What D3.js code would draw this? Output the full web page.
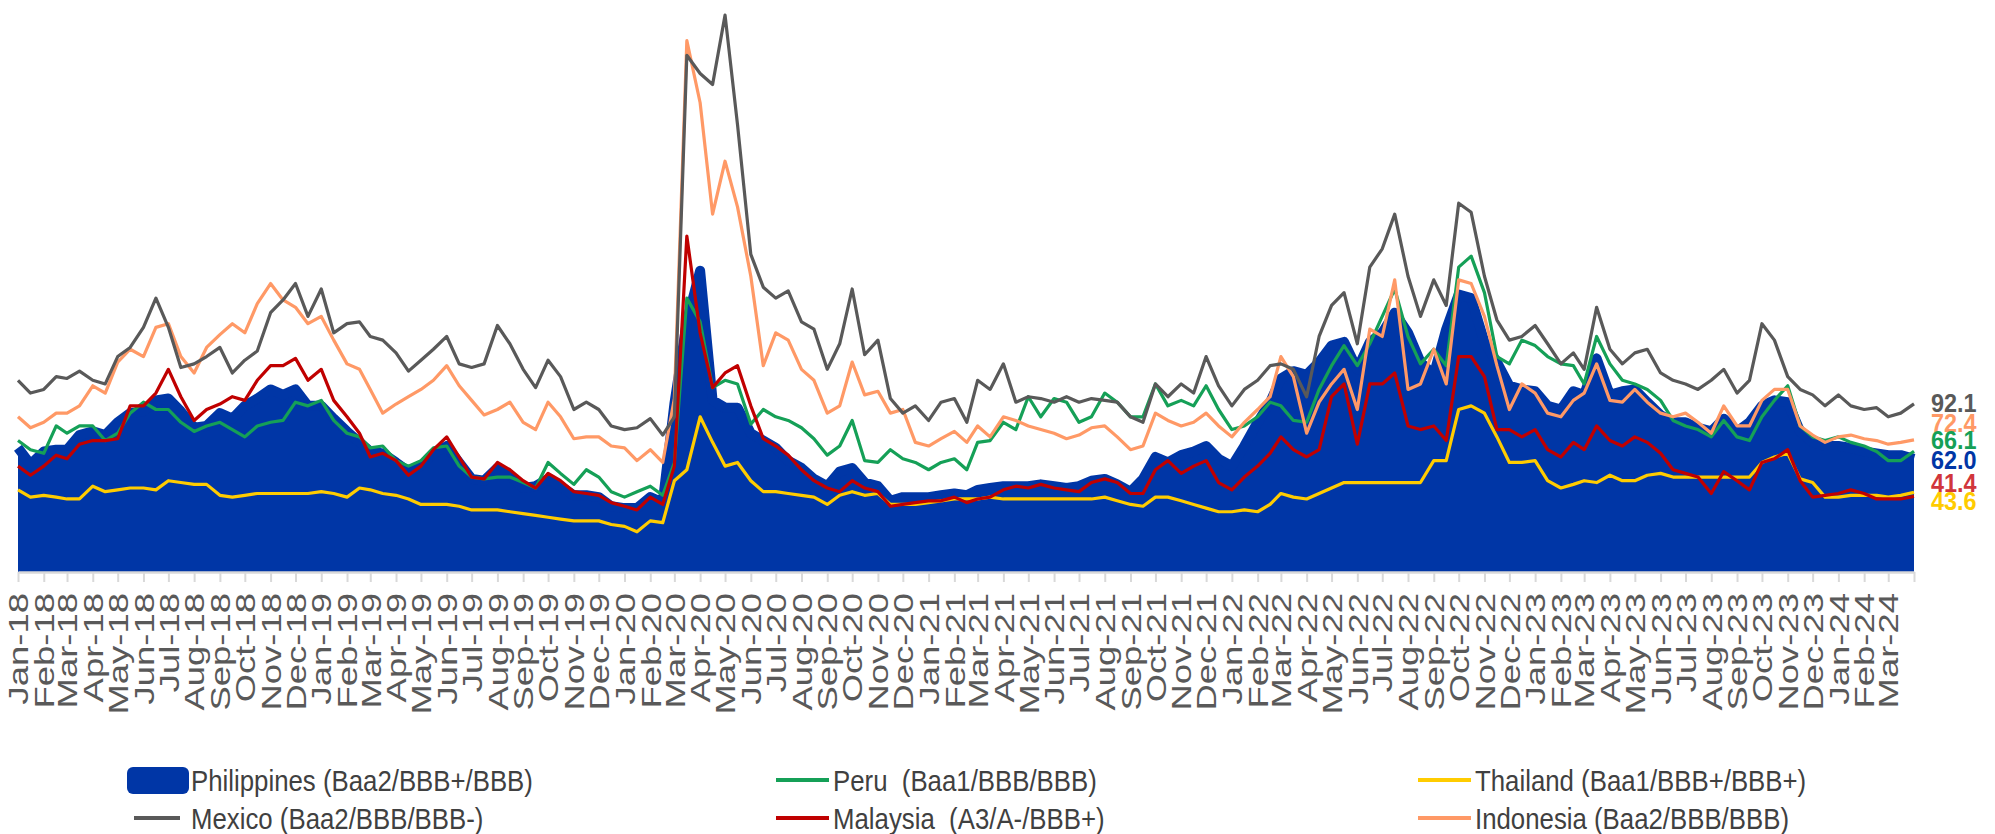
<!DOCTYPE html>
<html>
<head>
<meta charset="utf-8">
<script src="https://cdn.jsdelivr.net/npm/d3@7"></script>
<style>
  body { margin: 0; background: #fff; }
  svg { display: block; }
  text { font-family: "Liberation Sans", Arial, sans-serif; white-space: pre; }
</style>
</head>
<body>
<div id="chart"></div>
<script>
// semi-monthly readings (1st and 16th of each month), Jan-18 .. Apr-24
let philippines = [
  68, 59, 66, 67, 67, 75, 77, 75, 82, 87, 88, 94, 95, 88, 79, 80, 87, 84, 91, 95, 100, 97, 100, 91,
  91, 84, 77, 71, 66, 65, 60, 55, 58, 65, 69, 60, 51, 50, 57, 53, 46, 47, 51, 47, 42, 42, 41, 36,
  35, 35, 41, 38, 92, 137, 165, 94, 90, 90, 76, 72, 68, 61, 57, 51, 47, 55, 57, 49, 47, 39, 41, 41,
  41, 42, 43, 42, 45, 46, 47, 47, 47, 48, 47, 46, 47, 50, 51, 48, 44, 51, 63, 60, 64, 66, 69, 62,
  58, 69, 82, 93, 106, 110, 108, 115, 124, 126, 111, 126, 131, 142, 131, 115, 108, 133, 152, 150, 126, 115, 102, 100,
  99, 91, 89, 99, 97, 117, 97, 99, 100, 93, 86, 82, 82, 79, 77, 84, 77, 82, 91, 94, 93, 77, 71, 69,
  69, 68, 66, 65, 64, 64, 62
];
let mexico = [
  105, 98, 100, 107, 106, 110, 105, 103, 118, 123, 134, 150, 134, 112, 114, 118, 123, 109, 116, 121, 142, 149, 158, 140,
  155, 131, 136, 137, 129, 127, 120, 110, 116, 122, 129, 114, 112, 114, 135, 125, 111, 101, 116, 107, 89, 93, 89, 80,
  78, 79, 84, 75, 85, 283, 273, 267, 305, 245, 174, 156, 150, 154, 137, 133, 111, 125, 155, 119, 127, 95, 87, 91,
  83, 93, 95, 82, 105, 100, 114, 93, 96, 95, 93, 96, 93, 95, 94, 93, 85, 82, 103, 96, 103, 98, 118, 102,
  91, 100, 105, 113, 114, 111, 96, 129, 146, 153, 125, 167, 177, 196, 162, 140, 160, 146, 202, 197, 162, 138, 127, 129,
  135, 125, 114, 120, 111, 145, 122, 114, 120, 122, 109, 105, 103, 100, 105, 111, 98, 105, 136, 127, 107, 100, 97, 91,
  97, 91, 89, 90, 85, 87, 92.1
];
let indonesia = [
  85, 79, 82, 87, 87, 91, 102, 98, 115, 122, 118, 134, 136, 118, 109, 123, 130, 136, 131, 147, 158, 149, 145, 136,
  140, 127, 114, 111, 100, 87, 92, 96, 100, 105, 113, 102, 94, 86, 89, 93, 82, 78, 93, 85, 73, 74, 74, 69,
  68, 61, 67, 60, 95, 291, 257, 196, 225, 200, 162, 113, 131, 127, 111, 105, 87, 91, 115, 97, 99, 87, 89, 71,
  69, 73, 77, 71, 80, 74, 85, 83, 80, 78, 76, 73, 75, 79, 80, 74, 67, 69, 87, 83, 80, 82, 87, 80,
  74, 82, 89, 96, 118, 107, 76, 93, 103, 111, 89, 133, 129, 160, 100, 103, 122, 103, 160, 158, 140, 113, 89, 103,
  98, 87, 85, 94, 98, 114, 94, 93, 100, 93, 87, 85, 87, 82, 76, 91, 80, 80, 94, 100, 100, 80, 75, 71,
  74, 75, 73, 72, 70, 71, 72.4
];
let peru = [
  72, 67, 65, 80, 76, 80, 80, 72, 76, 87, 93, 89, 89, 82, 77, 80, 82, 78, 74, 80, 82, 83, 93, 91,
  94, 83, 76, 74, 68, 69, 61, 58, 61, 68, 69, 58, 52, 51, 52, 52, 49, 46, 60, 54, 48, 56, 52, 44,
  41, 44, 47, 42, 60, 150, 137, 101, 105, 103, 81, 89, 85, 83, 79, 73, 64, 69, 83, 61, 60, 67, 62, 60,
  56, 60, 62, 56, 71, 72, 82, 78, 96, 85, 95, 93, 82, 85, 98, 93, 85, 85, 103, 91, 94, 91, 102, 89,
  78, 80, 85, 93, 91, 83, 82, 100, 113, 124, 113, 125, 140, 155, 129, 114, 122, 113, 167, 173, 153, 118, 114, 127,
  124, 118, 114, 113, 103, 129, 114, 105, 103, 100, 94, 83, 80, 78, 74, 83, 74, 72, 85, 94, 102, 80, 74, 72,
  74, 71, 69, 66, 61, 61, 66.1
];
let malaysia = [
  58, 53, 58, 64, 62, 70, 72, 72, 73, 91, 91, 98, 111, 96, 83, 89, 92, 96, 94, 105, 113, 113, 117, 105,
  111, 94, 85, 76, 63, 65, 61, 53, 58, 67, 74, 63, 52, 51, 60, 56, 50, 46, 54, 50, 44, 43, 42, 38,
  36, 34, 41, 37, 58, 184, 131, 101, 109, 113, 91, 73, 69, 64, 56, 50, 46, 44, 50, 46, 44, 36, 37, 38,
  39, 39, 41, 38, 40, 41, 45, 47, 46, 48, 46, 45, 44, 49, 51, 49, 43, 43, 56, 61, 54, 58, 61, 49,
  45, 52, 58, 65, 74, 67, 63, 67, 96, 103, 70, 103, 103, 109, 80, 78, 80, 72, 118, 118, 107, 78, 78, 74,
  78, 67, 63, 71, 67, 80, 72, 69, 74, 71, 65, 56, 54, 52, 43, 55, 50, 45, 60, 62, 67, 50, 41, 42,
  43, 45, 43, 40, 40, 40, 41.4
];
let thailand = [
  45, 41, 42, 41, 40, 40, 47, 44, 45, 46, 46, 45, 50, 49, 48, 48, 42, 41, 42, 43, 43, 43, 43, 43,
  44, 43, 41, 46, 45, 43, 42, 40, 37, 37, 37, 36, 34, 34, 34, 33, 32, 31, 30, 29, 28, 28, 28, 26,
  25, 22, 28, 27, 50, 56, 85, 71, 58, 60, 50, 44, 44, 43, 42, 41, 37, 42, 44, 42, 43, 37, 37, 37,
  38, 39, 40, 40, 40, 41, 40, 40, 40, 40, 40, 40, 40, 40, 41, 39, 37, 36, 41, 41, 39, 37, 35, 33,
  33, 34, 33, 37, 43, 41, 40, 43, 46, 49, 49, 49, 49, 49, 49, 49, 61, 61, 89, 91, 87, 74, 60, 60,
  61, 50, 46, 48, 50, 49, 53, 50, 50, 53, 54, 52, 52, 52, 52, 52, 52, 52, 60, 63, 65, 51, 49, 41,
  41, 42, 42, 42, 41, 42, 43.6
];

let legendNames = ["Philippines (Baa2/BBB+/BBB)", "Peru  (Baa1/BBB/BBB)", "Thailand (Baa1/BBB+/BBB+)",
                   "Mexico (Baa2/BBB/BBB-)", "Malaysia  (A3/A-/BBB+)", "Indonesia (Baa2/BBB/BBB)"];
let endLabels = ["92.1", "72.4", "66.1", "62.0", "41.4", "43.6"];
let endLabelAt = [92.6, 81.6, 72.3, 61.3, 48.7, 38.9];   // where the text sits, value units

let width = 1995, height = 834;

let colors = {
    philippines: "#0036a6", mexico: "#595959", indonesia: "#ff9966",
    peru: "#15a057", malaysia: "#c00000", thailand: "#ffcc00"
};

let dates = d3.range(philippines.length).map(function(i) {
    return new Date(2018, Math.floor(i / 2), i % 2 ? 16 : 1);
});

let x = d3.scaleTime()
    .domain([new Date(2018, 0, 1), new Date(2024, 3, 1)])
    .range([18, 1914]);

let y = d3.scaleLinear()
    .domain([0, 310])
    .range([572, 6]);

let svg = d3.select("#chart").append("svg")
    .attr("width", width)
    .attr("height", height);

svg.append("rect").attr("width", width).attr("height", height).attr("fill", "#fff");

// Philippines as filled area with a fat outline on top
let area = d3.area()
    .x(function(d, i) { return x(dates[i]); })
    .y0(y(0))
    .y1(function(d) { return y(d); });

let line = d3.line()
    .x(function(d, i) { return x(dates[i]); })
    .y(function(d) { return y(d); });

svg.append("path")
    .datum(philippines)
    .attr("d", area)
    .attr("fill", colors.philippines);

svg.append("path")
    .datum(philippines)
    .attr("d", line)
    .attr("fill", "none")
    .attr("stroke", colors.philippines)
    .attr("stroke-width", 10)
    .attr("stroke-linejoin", "round");

let lines = [
    {values: thailand, color: colors.thailand},
    {values: peru, color: colors.peru},
    {values: malaysia, color: colors.malaysia},
    {values: indonesia, color: colors.indonesia},
    {values: mexico, color: colors.mexico}
];

svg.append("g").selectAll("path")
    .data(lines)
    .enter().append("path")
    .attr("d", function(d) { return line(d.values); })
    .attr("fill", "none")
    .attr("stroke", function(d) { return d.color; })
    .attr("stroke-width", 3.2)
    .attr("stroke-linejoin", "round");

// x axis: a tick at each month start, rotated month labels
let xAxis = d3.axisBottom(x)
    .ticks(d3.timeMonth.every(1))
    .tickFormat(d3.timeFormat("%b-%y"))
    .tickSize(10)
    .tickSizeOuter(0);

let gx = svg.append("g")
    .attr("transform", "translate(0," + y(0) + ")")
    .call(xAxis);

gx.select(".domain").attr("stroke", "#d9d9d9").attr("stroke-width", 2.5);
gx.selectAll(".tick line").attr("stroke", "#d9d9d9").attr("stroke-width", 2);
gx.selectAll(".tick text")
    .attr("x", 0).attr("y", 0).attr("dy", "0.36em")
    .attr("text-anchor", "end")
    .attr("transform", "translate(0,21) scale(1,1.35) rotate(-90)")
    .style("font-family", '"Liberation Sans", Arial, sans-serif')
    .style("font-size", "27px")
    .attr("fill", "#595959")
    .filter(function(d) { return +d >= +x.domain()[1]; })
    .remove();

// end-of-series value labels
let labelColors = [colors.mexico, colors.indonesia, colors.peru, colors.philippines, "#d1363c", "#ffcc00"];
svg.append("g").selectAll("text")
    .data(endLabels)
    .enter().append("text")
    .attr("transform", function(d, i) { return "translate(1931," + y(endLabelAt[i]) + ") scale(0.9,1)"; })
    .attr("dy", "0.36em")
    .attr("fill", function(d, i) { return labelColors[i]; })
    .style("font-size", "26px")
    .style("font-weight", "bold")
    .text(function(d) { return d; });

// legend, 3 columns x 2 rows
let legendColors = [colors.philippines, colors.peru, colors.thailand, colors.mexico, colors.malaysia, colors.indonesia];
let legendX = [127, 776, 1418], legendY = [780, 818];

let legend = svg.append("g").selectAll("g")
    .data(legendNames)
    .enter().append("g")
    .attr("transform", function(d, i) {
        return "translate(" + legendX[i % 3] + "," + legendY[Math.floor(i / 3)] + ")";
    });

legend.each(function(d, i) {
    let g = d3.select(this);
    if (i == 0) {
        g.append("rect")
            .attr("x", 0).attr("y", -13)
            .attr("width", 62).attr("height", 27)
            .attr("rx", 6)
            .attr("fill", legendColors[i]);
    } else {
        g.append("line")
            .attr("x1", i % 3 == 0 ? 7 : 0).attr("x2", 53)
            .attr("stroke", legendColors[i])
            .attr("stroke-width", 4);
    }
    g.append("text")
        .attr("transform", "translate(" + (i % 3 == 0 ? 64 : 57) + ",0) scale(0.86,1)")
        .attr("dy", "0.36em")
        .attr("fill", "#404040")
        .style("font-size", "30px")
        .text(d);
});
</script>
</body>
</html>
